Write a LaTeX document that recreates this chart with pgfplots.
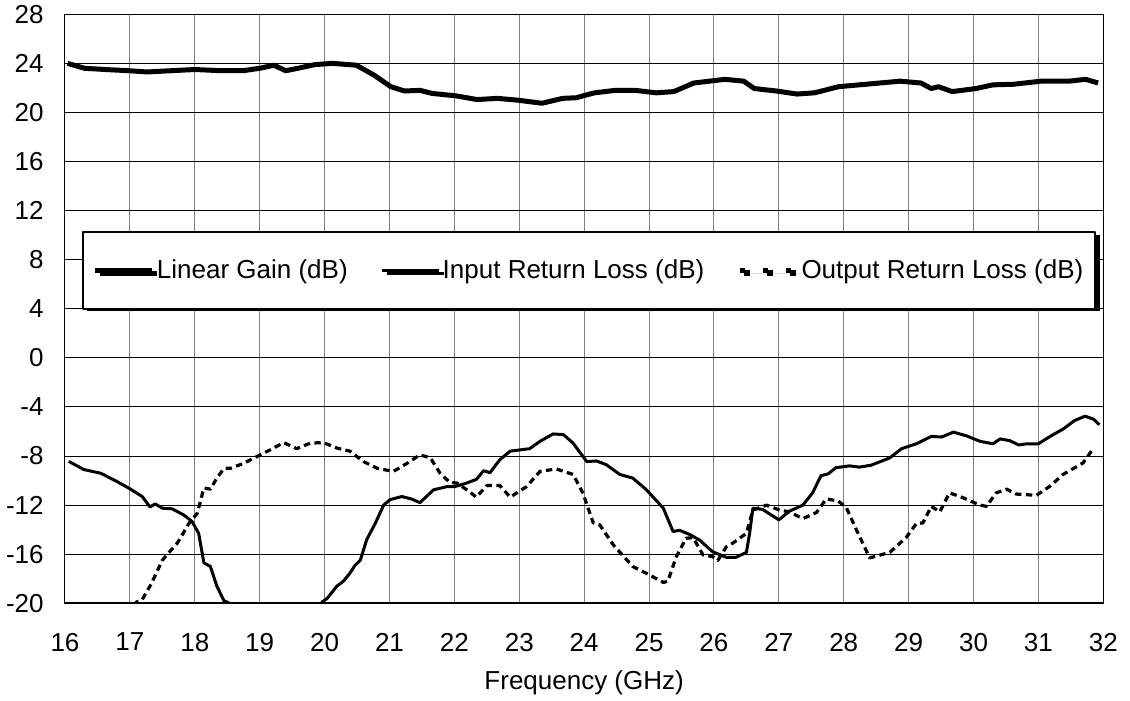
\documentclass[border=0pt]{standalone}
\usepackage{pgfplots}
\pgfplotsset{compat=1.18}
\usepackage{fontspec}
\setmainfont{Liberation Sans}
\usetikzlibrary{shadows}
\begin{document}
\begin{tikzpicture}[font=\fontsize{13}{15.6}\selectfont]
\useasboundingbox (-32.5pt,-48.85pt) rectangle (532.5pt,301.65pt);
\begin{axis}[
 at={(0pt,0pt)}, anchor=south west,
 scale only axis, width=519.15pt, height=294.5pt,
 xmin=16, xmax=32, ymin=-20, ymax=28,
 xtick={16,17,...,32}, ytick={-20,-16,...,28},
 /pgf/number format/assume math mode=true,
 major tick length=0pt,
 grid=major,
 x grid style={black!50, line width=0.5pt},
 y grid style={black, line width=0.5pt},
 axis line style={black, line width=0.5pt},
 xticklabel style={inner sep=0pt, anchor=north, yshift=-14.7pt},
 yticklabel style={inner sep=0pt, anchor=east, xshift=-10.5pt},
 xlabel={Frequency (GHz)},
 xlabel style={at={(axis description cs:0.5,0)}, anchor=base, yshift=-43.35pt, inner sep=0pt},
 legend image code/.code={\draw[#1] (0pt,0pt) -- (28.5pt,0pt);},
 legend columns=3,
 legend style={at={(axis description cs:0.5048,0.5655)}, anchor=center,
   draw=black, line width=1pt, fill=white,
   drop shadow={shadow xshift=2.2pt, shadow yshift=-1.4pt, fill=black, opacity=1},
   inner xsep=5pt, inner ysep=11.7pt,
   nodes={inner xsep=1pt, inner ysep=2pt},
   /tikz/every even column/.append style={column sep=15.5pt}},
 line join=round,
]
\addplot[black, line width=2.5pt] coordinates {
(16.04,24.0) (16.30,23.6) (16.62,23.5) (16.99,23.4) (17.26,23.3) (17.63,23.4)
(18.00,23.5) (18.42,23.4) (18.74,23.4) (19.00,23.6) (19.22,23.85) (19.40,23.4)
(19.59,23.6) (19.85,23.9) (20.12,24.0) (20.49,23.85) (20.76,23.05) (21.02,22.1)
(21.23,21.75) (21.47,21.8) (21.66,21.55) (22.03,21.35) (22.35,21.05) (22.66,21.15)
(22.98,21.0) (23.35,20.75) (23.67,21.15) (23.88,21.2) (24.05,21.45) (24.16,21.6)
(24.48,21.8) (24.79,21.8) (25.11,21.6) (25.38,21.7) (25.69,22.4) (26.17,22.7)
(26.46,22.55) (26.62,21.95) (26.96,21.75) (27.28,21.5) (27.55,21.6) (27.92,22.1)
(28.45,22.35) (28.87,22.55) (29.19,22.4) (29.35,21.95) (29.46,22.1) (29.67,21.7)
(30.04,21.95) (30.30,22.25) (30.62,22.3) (31.04,22.55) (31.47,22.55) (31.73,22.7)
(31.92,22.4)
};
\addlegendentry{Linear Gain (dB)}
\addplot[black, line width=1.5pt] coordinates {
(16.06,-8.44) (16.29,-9.1) (16.55,-9.4) (16.81,-10.1) (17.01,-10.7) (17.19,-11.3)
(17.31,-12.15) (17.39,-11.9) (17.50,-12.25) (17.65,-12.3) (17.83,-12.8) (17.96,-13.35)
(18.06,-14.3) (18.14,-16.7) (18.24,-17.0) (18.34,-18.6) (18.45,-19.8) (18.52,-19.95)
(18.60,-21) (19.90,-21)
(19.96,-19.9) (20.04,-19.6) (20.19,-18.6) (20.29,-18.2) (20.39,-17.55) (20.47,-16.9)
(20.55,-16.5) (20.65,-14.8) (20.78,-13.5) (20.91,-12.0) (21.01,-11.55) (21.19,-11.3)
(21.34,-11.5) (21.47,-11.8) (21.68,-10.75) (21.88,-10.5) (22.0,-10.5) (22.19,-10.2)
(22.34,-9.9) (22.45,-9.2) (22.55,-9.35) (22.70,-8.3) (22.86,-7.6) (23.01,-7.5)
(23.16,-7.4) (23.32,-6.8) (23.52,-6.2) (23.68,-6.25) (23.83,-6.95) (24.04,-8.45)
(24.19,-8.4) (24.34,-8.7) (24.55,-9.5) (24.75,-9.8) (24.96,-10.75) (25.22,-12.25)
(25.37,-14.15) (25.47,-14.05) (25.63,-14.4) (25.78,-14.85) (25.98,-15.8) (26.19,-16.25)
(26.34,-16.25) (26.50,-15.85) (26.55,-14.3) (26.60,-12.25) (26.75,-12.35) (27.0,-13.2)
(27.16,-12.5) (27.37,-12.0) (27.52,-11.0) (27.65,-9.6) (27.76,-9.45) (27.88,-8.95)
(28.09,-8.8) (28.24,-8.9) (28.42,-8.75) (28.71,-8.15) (28.89,-7.4) (29.12,-7.0)
(29.35,-6.4) (29.51,-6.45) (29.69,-6.05) (29.89,-6.35) (30.10,-6.8) (30.30,-7.0)
(30.41,-6.6) (30.56,-6.75) (30.70,-7.1) (30.82,-7.0) (31.0,-7.0) (31.18,-6.4)
(31.38,-5.8) (31.56,-5.1) (31.72,-4.75) (31.85,-5.0) (31.94,-5.45)
};
\addlegendentry{Input Return Loss (dB)}
\addplot[black, line width=1.6pt, dash pattern=on 3.2pt off 2.2pt, forget plot] coordinates {
(17.00,-21) (17.10,-19.9) (17.19,-19.7) (17.32,-18.5) (17.50,-16.5) (17.57,-16.05)
(17.73,-15.1) (17.91,-13.5) (18.04,-12.65) (18.14,-10.6) (18.24,-10.7) (18.34,-9.8)
(18.45,-9.0) (18.55,-9.0) (18.75,-8.6) (19.01,-7.9) (19.16,-7.5) (19.37,-6.9)
(19.57,-7.4) (19.78,-6.95) (19.98,-6.9) (20.19,-7.35) (20.39,-7.6) (20.60,-8.45)
(20.81,-9.0) (21.06,-9.25) (21.27,-8.6) (21.47,-7.9) (21.63,-8.15) (21.78,-9.4)
(21.93,-10.15) (22.04,-10.2) (22.19,-10.75) (22.34,-11.35) (22.50,-10.4) (22.70,-10.4)
(22.86,-11.35) (23.11,-10.5) (23.32,-9.25) (23.57,-9.05) (23.83,-9.5) (23.98,-11.0)
(24.14,-13.45) (24.24,-13.6) (24.45,-15.25) (24.75,-17.0) (25.01,-17.7) (25.22,-18.3)
(25.29,-18.2) (25.42,-16.2) (25.57,-14.7) (25.68,-14.65) (25.83,-16.05) (25.98,-16.2)
(26.06,-16.5) (26.19,-15.4) (26.29,-15.1) (26.50,-14.3) (26.60,-12.4) (26.81,-12.0)
(27.01,-12.4) (27.16,-12.55) (27.37,-13.1) (27.58,-12.6) (27.73,-11.5) (27.91,-11.65)
(28.04,-12.2) (28.19,-13.95) (28.40,-16.3) (28.71,-15.85) (28.96,-14.65) (29.12,-13.5)
(29.22,-13.45) (29.35,-12.1) (29.48,-12.55) (29.63,-11.0) (29.84,-11.4) (30.10,-12.0)
(30.20,-12.1) (30.35,-11.0) (30.51,-10.7) (30.66,-11.1) (30.97,-11.2) (31.18,-10.45)
(31.38,-9.5) (31.69,-8.55) (31.85,-7.35)
};
\addlegendimage{black, line width=2.6pt, dash pattern=on 2.6pt off 8.9pt}
\addlegendentry{Output Return Loss (dB)}
\draw[black, line width=1pt] (rel axis cs:0,0) -- (rel axis cs:1,0);
\end{axis}
\end{tikzpicture}
\end{document}
